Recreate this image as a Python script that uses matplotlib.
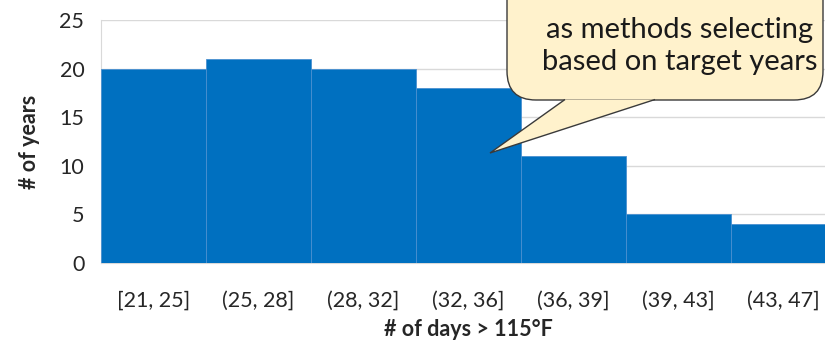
import matplotlib.pyplot as plt
from matplotlib.patches import FancyBboxPatch, Polygon

plt.rcParams['font.family'] = ['Lato', 'DejaVu Sans']

# ---------- Data ----------
bins = ['[21, 25]', '(25, 28]', '(28, 32]', '(32, 36]', '(36, 39]', '(39, 43]', '(43, 47]']
counts = [20, 21, 20, 18, 11, 5, 4]
callout_text = "as methods selecting\nbased on target years"

# ---------- Plot ----------
fig = plt.figure(figsize=(8.25, 3.55), dpi=100)
ax = fig.add_axes([0.1224, 0.259, 0.891, 0.685])

x = range(len(bins))
ax.bar(x, counts, width=1.0, color='#0070C0', edgecolor='#4A90D0', linewidth=0.6, zorder=3)

ax.set_xlim(-0.5, len(bins) - 0.5)
ax.set_ylim(0, 25)
ax.set_yticks(range(0, 26, 5))
ax.set_xticks(list(x))
ax.set_xticklabels(bins)
ax.tick_params(axis='both', length=0, labelsize=15.5, colors='#262626')
ax.tick_params(axis='x', pad=20)
ax.tick_params(axis='y', pad=12)
ax.grid(axis='y', color='#D9D9D9', linewidth=1, zorder=0)

for s in ['top', 'right']:
    ax.spines[s].set_visible(False)
ax.spines['left'].set_color('#D9D9D9')
ax.spines['bottom'].set_color('#D9D9D9')

ax.set_xlabel('# of days > 115°F', fontsize=15.5, fontweight='bold', labelpad=6, color='#262626')
ax.set_ylabel('# of years', fontsize=15.5, fontweight='bold', labelpad=14, color='#262626')

# speech-bubble callout (figure pixel coords)
W, H = 825, 355
def fp(px, py):
    return (px / W, 1 - py / H)

bx0, by0 = fp(507, 100)
bx1, by1 = fp(823, -40)
box = FancyBboxPatch((bx0, by0), bx1 - bx0, by1 - by0,
                     boxstyle='round,pad=0,rounding_size=0.035',
                     transform=fig.transFigure, facecolor='#FFF2CC',
                     edgecolor='#3A3A3A', linewidth=1.0, zorder=10,
                     mutation_aspect=W / H)
fig.patches.append(box)
tail = Polygon([fp(565, 99.5), fp(490, 153), fp(655, 99.5)], closed=False,
               transform=fig.transFigure, facecolor='#FFF2CC',
               edgecolor='#3A3A3A', linewidth=1.0, zorder=11)
fig.patches.append(tail)
fig.text(*fp(680, 46), callout_text, ha='center', va='center', fontsize=21,
         color='#1A1A1A', linespacing=1.3, zorder=12)

fig.savefig('out.png', dpi=100)
